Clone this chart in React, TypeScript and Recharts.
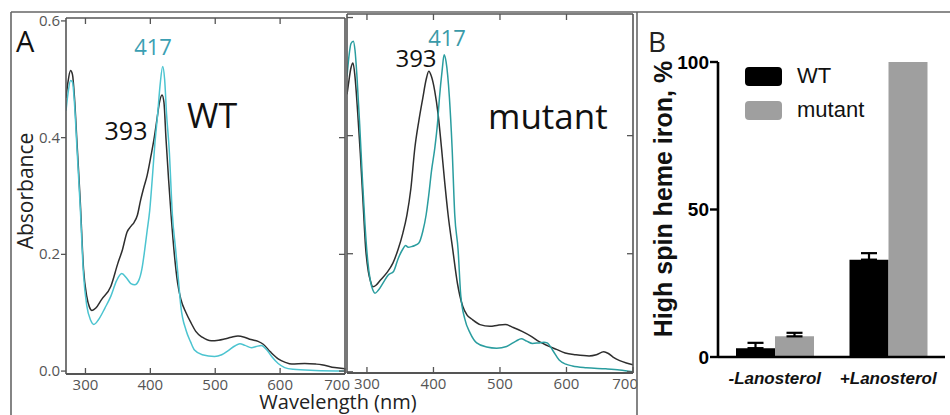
import React from "react"
import { LineChart, Line, XAxis, YAxis, BarChart, Bar, ErrorBar, Legend } from "recharts"

// wavelength (nm), absorbance
const wtBlack: [number, number][] = [
  [270, 0.468], [273, 0.495], [277, 0.515], [280, 0.508], [283, 0.47], [287, 0.39], [292, 0.29],
  [297, 0.175], [302, 0.128], [306, 0.11], [310, 0.104], [316, 0.108], [325, 0.123], [339, 0.145],
  [350, 0.185], [357, 0.208], [364, 0.238], [370, 0.248], [375, 0.255], [380, 0.267], [385, 0.293],
  [390, 0.315], [395, 0.335], [401, 0.369], [406, 0.4], [410, 0.43], [414, 0.46], [418, 0.473],
  [421, 0.46], [424, 0.4], [428, 0.33], [432, 0.267], [437, 0.2], [442, 0.151], [447, 0.123],
  [455, 0.1], [463, 0.082], [470, 0.068], [480, 0.058], [494, 0.052], [505, 0.053], [514, 0.055],
  [525, 0.058], [535, 0.06], [545, 0.058], [555, 0.054], [566, 0.051], [574, 0.046], [585, 0.033],
  [597, 0.021], [608, 0.015], [618, 0.012], [638, 0.013], [655, 0.012], [664, 0.011], [684, 0.006],
  [700, 0.004],
]

const wtTeal: [number, number][] = [
  [270, 0.446], [273, 0.475], [277, 0.498], [280, 0.495], [283, 0.46], [287, 0.38], [292, 0.28],
  [297, 0.165], [302, 0.112], [308, 0.087], [313, 0.08], [320, 0.088], [330, 0.108], [339, 0.128],
  [348, 0.155], [356, 0.167], [363, 0.16], [370, 0.15], [376, 0.148], [382, 0.155], [387, 0.175],
  [391, 0.205], [395, 0.24], [399, 0.275], [403, 0.33], [407, 0.39], [411, 0.437], [415, 0.49],
  [419, 0.522], [422, 0.5], [425, 0.44], [429, 0.381], [434, 0.267], [439, 0.208], [443, 0.16],
  [447, 0.111], [455, 0.07], [462, 0.05], [468, 0.036], [480, 0.028], [499, 0.025], [510, 0.028],
  [520, 0.035], [530, 0.043], [538, 0.047], [546, 0.044], [556, 0.04], [563, 0.042], [571, 0.044],
  [579, 0.037], [587, 0.025], [597, 0.013], [607, 0.006], [620, 0.003], [654, 0.001], [700, 0],
]

const mutBlack: [number, number][] = [
  [270, 0.47], [272, 0.486], [276, 0.515], [279, 0.523], [282, 0.5], [286, 0.44], [290, 0.37],
  [294, 0.29], [298, 0.21], [302, 0.17], [305, 0.155], [309, 0.144], [314, 0.147], [320, 0.155],
  [330, 0.168], [339, 0.184], [347, 0.208], [354, 0.235], [360, 0.265], [366, 0.31], [372, 0.379],
  [378, 0.425], [384, 0.464], [389, 0.495], [393, 0.509], [397, 0.5], [402, 0.475], [407, 0.436],
  [412, 0.38], [417, 0.32], [422, 0.266], [429, 0.207], [436, 0.15], [444, 0.111], [450, 0.097],
  [459, 0.088], [470, 0.08], [485, 0.077], [497, 0.079], [508, 0.08], [520, 0.075], [534, 0.068],
  [547, 0.06], [559, 0.051], [572, 0.044], [585, 0.038], [598, 0.032], [614, 0.029], [634, 0.027],
  [645, 0.029], [656, 0.034], [663, 0.031], [670, 0.025], [680, 0.019], [690, 0.015], [700, 0.012],
]

const mutTeal: [number, number][] = [
  [270, 0.5], [273, 0.535], [276, 0.556], [279.5, 0.56], [282, 0.545], [285, 0.5], [289, 0.42],
  [293, 0.33], [297, 0.25], [301, 0.19], [305, 0.155], [309, 0.138], [312, 0.133], [317, 0.138],
  [325, 0.152], [332, 0.164], [340, 0.17], [347, 0.192], [354, 0.208], [358, 0.214], [362, 0.211],
  [367, 0.212], [372, 0.214], [378, 0.218], [384, 0.238], [389, 0.266], [393, 0.3], [397, 0.34],
  [402, 0.379], [406, 0.42], [409, 0.464], [413, 0.51], [416, 0.537], [419, 0.525], [424, 0.464],
  [428, 0.38], [432, 0.266], [437, 0.207], [441, 0.13], [447, 0.09], [455, 0.066], [465, 0.049],
  [480, 0.042], [495, 0.04], [510, 0.043], [524, 0.052], [532, 0.056], [540, 0.052], [549, 0.048],
  [558, 0.049], [566, 0.05], [571, 0.049], [579, 0.037], [589, 0.02], [599, 0.013], [609, 0.01],
  [630, 0.007], [659, 0.005], [680, 0.003], [700, 0],
]

const xTicks = [300, 400, 500, 600, 700]
const yTicks = [0, 0.2, 0.4, 0.6]

// panel B
const conditions = ["-Lanosterol", "+Lanosterol"]
const wtSpin = [3, 33]
const wtSpinErr = [1.8, 2.2]
const mutSpin = [7, 100]
const mutSpinErr = [1.2, null]

const barRows = conditions.map((c, i) => ({
  cond: c,
  wt: wtSpin[i],
  wtErr: [0, wtSpinErr[i]],
  mutant: mutSpin[i],
  mutErr: mutSpinErr[i] == null ? null : [0, mutSpinErr[i]],
}))

const toRows = (pts: [number, number][]) => pts.map(([nm, a]) => ({ nm, a }))

const AX = "#555"
const CAL = "'Open Sans', sans-serif"
const ARIAL = "'Liberation Sans', Arial, sans-serif"

function BottomTick(p: any) {
  const v = p.payload.value
  const last = v === 700
  return (
    <g>
      <line x1={p.x} y1={p.y} x2={p.x} y2={p.y - 6} stroke={AX} strokeWidth={1.3} />
      <text
        x={last ? p.x + 5 : p.x}
        y={p.y + 16}
        textAnchor={last ? "end" : "middle"}
        fontFamily={CAL}
        fontSize={15}
        fill="#555"
      >
        {v}
      </text>
    </g>
  )
}

function TopTick(p: any) {
  return <line x1={p.x} y1={p.y} x2={p.x} y2={p.y + 6} stroke={AX} strokeWidth={1.3} />
}

function LeftLabelTick(p: any) {
  return (
    <g>
      <line x1={p.x - 5} y1={p.y} x2={p.x} y2={p.y} stroke={AX} strokeWidth={1.3} />
      <text x={p.x - 6} y={p.y + 5} textAnchor="end" fontFamily={CAL} fontSize={15} fill="#555">
        {p.payload.value.toFixed(1)}
      </text>
    </g>
  )
}

function LeftInTick(p: any) {
  return <line x1={p.x} y1={p.y} x2={p.x + 6} y2={p.y} stroke={AX} strokeWidth={1.3} />
}

function RightTick(p: any) {
  return <line x1={p.x - 6} y1={p.y} x2={p.x} y2={p.y} stroke={AX} strokeWidth={1.3} />
}

type SpectrumProps = {
  black: [number, number][]
  teal: [number, number][]
  tealColor: string
  margin: { top: number; left: number; right: number; bottom: number }
  yDomain: [number, number]
  yLabels: boolean
}

function Spectrum({ black, teal, tealColor, margin, yDomain, yLabels }: SpectrumProps) {
  const axisLine = { stroke: AX, strokeWidth: 1.6 }
  return (
    <div style={{ position: "absolute", left: 0, top: 0 }}>
      <LineChart width={950} height={415} margin={margin}>
        <XAxis
          xAxisId="b"
          type="number"
          dataKey="nm"
          domain={[270, 700]}
          ticks={xTicks}
          allowDataOverflow
          height={1}
          tickSize={0}
          tickMargin={0}
          tickLine={false}
          axisLine={{ stroke: AX, strokeWidth: 2.2 }}
          tick={(p: any) => <BottomTick {...p} />}
          interval={0}
        />
        <XAxis
          xAxisId="t"
          orientation="top"
          type="number"
          dataKey="nm"
          domain={[270, 700]}
          ticks={xTicks.slice(0, 4)}
          allowDataOverflow
          height={1}
          tickSize={0}
          tickMargin={0}
          tickLine={false}
          axisLine={axisLine}
          tick={(p: any) => <TopTick {...p} />}
          interval={0}
        />
        <YAxis
          yAxisId="l"
          type="number"
          domain={yDomain}
          ticks={yTicks}
          allowDataOverflow
          width={1}
          tickSize={0}
          tickMargin={0}
          tickLine={false}
          axisLine={axisLine}
          tick={(p: any) => (yLabels ? <LeftLabelTick {...p} /> : <LeftInTick {...p} />)}
          interval={0}
        />
        <YAxis
          yAxisId="r"
          orientation="right"
          type="number"
          domain={yDomain}
          ticks={yTicks.slice(0, 3)}
          allowDataOverflow
          width={1}
          tickSize={0}
          tickMargin={0}
          tickLine={false}
          axisLine={axisLine}
          tick={(p: any) => <RightTick {...p} />}
          interval={0}
        />
        <Line
          xAxisId="b"
          yAxisId="l"
          data={toRows(black)}
          dataKey="a"
          type="monotone"
          stroke="#2e2e2e"
          strokeWidth={1.5}
          dot={false}
          isAnimationActive={false}
        />
        <Line
          xAxisId="b"
          yAxisId="l"
          data={toRows(teal)}
          dataKey="a"
          type="monotone"
          stroke={tealColor}
          strokeWidth={1.5}
          dot={false}
          isAnimationActive={false}
        />
      </LineChart>
    </div>
  )
}

function SpinBars() {
  return (
    <div style={{ position: "absolute", left: 0, top: 0 }}>
      <BarChart
        width={950}
        height={415}
        data={barRows}
        margin={{ top: 62, left: 688, right: 5, bottom: 28 }}
        barCategoryGap={18}
        barGap={0}
      >
        <XAxis
          dataKey="cond"
          height={30}
          tickLine={false}
          tickMargin={9}
          axisLine={{ stroke: "#000", strokeWidth: 2.6 }}
          tick={{ fill: "#111", fontSize: 17, fontWeight: 700, fontStyle: "italic", fontFamily: ARIAL }}
        />
        <YAxis
          type="number"
          domain={[0, 100]}
          ticks={[0, 50, 100]}
          width={30}
          tickSize={8}
          tickMargin={1}
          axisLine={{ stroke: "#000", strokeWidth: 2.6 }}
          tickLine={{ stroke: "#000", strokeWidth: 2.4 }}
          tick={{ fill: "#000", fontSize: 19, fontWeight: 700, fontFamily: ARIAL }}
        />
        <Legend
          layout="horizontal"
          verticalAlign="middle"
          align="center"
          wrapperStyle={{ left: 745, top: 59, width: 150 }}
          content={({ payload }: any) => (
            <div>
              {(payload || []).map((e: any) => (
                <div key={e.value} style={{ display: "flex", alignItems: "center", height: 34 }}>
                  <span
                    style={{
                      display: "inline-block",
                      width: 37,
                      height: 19,
                      borderRadius: 4,
                      background: e.color,
                      marginRight: 15,
                    }}
                  />
                  <span style={{ fontFamily: ARIAL, fontSize: 22, color: "#111" }}>{e.value}</span>
                </div>
              ))}
            </div>
          )}
        />
        <Bar dataKey="wt" name="WT" fill="#000" isAnimationActive={false}>
          <ErrorBar dataKey="wtErr" width={8} stroke="#000" strokeWidth={2.2} direction="y" />
        </Bar>
        <Bar dataKey="mutant" name="mutant" fill="#9f9f9f" isAnimationActive={false}>
          <ErrorBar dataKey="mutErr" width={8} stroke="#000" strokeWidth={2.2} direction="y" />
        </Bar>
      </BarChart>
    </div>
  )
}

function Overlay() {
  return (
    <svg
      width={950}
      height={415}
      style={{ position: "absolute", left: 0, top: 0, pointerEvents: "none" }}
    >
      <g stroke="#666" strokeWidth={1.6}>
        <line x1={11} y1={12} x2={950} y2={12} />
        <line x1={11} y1={12} x2={11} y2={415} />
        <line x1={637} y1={12} x2={637} y2={415} />
      </g>
      <g fontFamily={CAL}>
        <text x={16} y={52} fontSize={29} fill="#111">A</text>
        <text x={153} y={55} fontSize={22} fill="#3b9fb3" textAnchor="middle">417</text>
        <text x={126} y={140} fontSize={25} fill="#111" textAnchor="middle">393</text>
        <text x={187} y={128} fontSize={34} fill="#111">WT</text>
        <text x={416} y={67} fontSize={24} fill="#111" textAnchor="middle">393</text>
        <text x={447} y={46} fontSize={22} fill="#3a9aa8" textAnchor="middle">417</text>
        <text x={488} y={129} fontSize={35} fill="#111">mutant</text>
        <text
          x={33}
          y={191}
          fontSize={21}
          fill="#222"
          textAnchor="middle"
          transform="rotate(-90 33 191)"
        >
          Absorbance
        </text>
        <text x={338} y={409} fontSize={20} fill="#222" textAnchor="middle">Wavelength (nm)</text>
        <text x={648} y={52} fontSize={28} fill="#222">B</text>
      </g>
      <text
        x={672}
        y={199}
        fontFamily={ARIAL}
        fontWeight={700}
        fontSize={25}
        fill="#111"
        textAnchor="middle"
        transform="rotate(-90 672 199)"
      >
        High spin heme iron, %
      </text>
    </svg>
  )
}

export default function App() {
  return (
    <div style={{ position: "absolute", left: 0, top: 0, width: 950, height: 415, background: "#fff" }}>
      <Spectrum
        black={wtBlack}
        teal={wtTeal}
        tealColor="#4cc4d0"
        margin={{ top: 17, left: 65, right: 604, bottom: 40 }}
        yDomain={[-0.005, 0.605]}
        yLabels
      />
      <Spectrum
        black={mutBlack}
        teal={mutTeal}
        tealColor="#2a9d9f"
        margin={{ top: 13, left: 346, right: 316, bottom: 41 }}
        yDomain={[-0.002, 0.606]}
        yLabels={false}
      />
      <SpinBars />
      <Overlay />
    </div>
  )
}
